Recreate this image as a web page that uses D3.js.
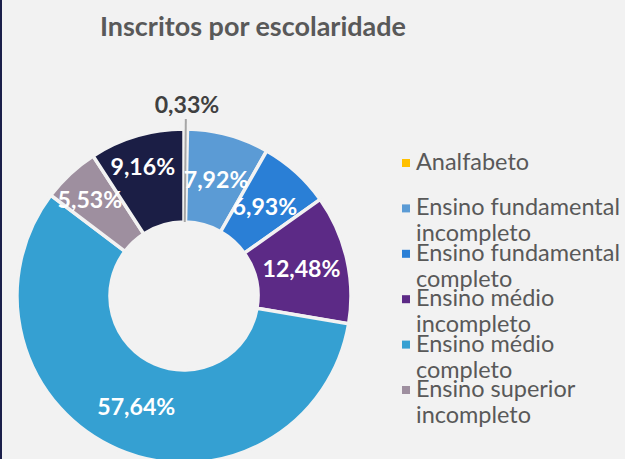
<!DOCTYPE html>
<html><head><meta charset="utf-8">
<script src="https://cdn.jsdelivr.net/npm/d3@7/dist/d3.min.js"></script>
<style>
html,body{margin:0;padding:0;background:#f2f2f2;}
svg{display:block;}
</style></head>
<body>
<svg id="c" width="625" height="459"></svg>
<script>
const title = "Inscritos por escolaridade";
const categories = ["Analfabeto","Ensino fundamental incompleto","Ensino fundamental completo","Ensino médio incompleto","Ensino médio completo","Ensino superior incompleto","Ensino superior completo"];
const legendLines = [["Analfabeto"],["Ensino fundamental","incompleto"],["Ensino fundamental","completo"],["Ensino médio","incompleto"],["Ensino médio","completo"],["Ensino superior","incompleto"]];
const values = [0.33, 7.92, 6.93, 12.48, 57.64, 5.53, 9.16];
const labels = ["0,33%","7,92%","6,93%","12,48%","57,64%","5,53%","9,16%"];
const colors = ["#ffc000","#5b9bd5","#2a7fd6","#5c2a86","#35a0d2","#9e8f9f","#1b1e45"];
// manual label nudges (as in the original)
const nudge = {"Ensino superior completo":[-7,-14],"Ensino superior incompleto":[-12,-8]};

const svg = d3.select("#c");
const W = 625, H = 459;
svg.append("rect").attr("width",W).attr("height",H).attr("fill","#f2f2f2");
svg.append("rect").attr("x",0).attr("y",0).attr("width",2).attr("height",H).attr("fill","#1b1f4a");

const font = "Lato, 'Open Sans', sans-serif";
function fit(sel, target){
  let fs = parseFloat(sel.attr("font-size"));
  for(let i=0;i<4;i++){ const w = sel.node().getComputedTextLength(); fs = fs*target/w; sel.attr("font-size",fs); }
  return fs;
}

const t = svg.append("text").attr("x",253).attr("y",36).attr("text-anchor","middle")
  .attr("font-family",font).attr("font-weight","bold").attr("font-size",28).attr("fill","#595959").text(title);
fit(t,306);

const cx = 184, cy = 296, R = 167, r0 = 74;
const data = categories.map((c,i)=>({cat:c,value:values[i],label:labels[i],color:colors[i]}));
const pie = d3.pie().value(d=>d.value).sort(null);
const arcs = pie(data);
const arc = d3.arc().innerRadius(r0).outerRadius(R);
const mid = d3.arc().innerRadius((r0+R)/2).outerRadius((r0+R)/2);
const g = svg.append("g").attr("transform",`translate(${cx},${cy})`);
g.selectAll("path.s").data(arcs).join("path").attr("class","s")
  .attr("d",arc).attr("fill",d=>d.data.color).attr("stroke","#f2f2f2").attr("stroke-width",3.5);

// leader for the tiny slice
const a0 = arcs[0]; const am = (a0.startAngle+a0.endAngle)/2;
g.append("line").attr("x1",Math.sin(am)*r0).attr("y1",-Math.cos(am)*r0)
  .attr("x2",Math.sin(am)*(R+10)).attr("y2",-Math.cos(am)*(R+10))
  .attr("stroke","#a6a6a6").attr("stroke-width",2);

// measure label font size
const probe = svg.append("text").attr("font-family",font).attr("font-weight","bold").attr("font-size",22).text("57,64%");
const lfs = fit(probe,78); probe.remove();

g.selectAll("text.l").data(arcs.slice(1)).join("text").attr("class","l")
  .attr("transform",d=>{const c=mid.centroid(d); const n=nudge[d.data.cat]||[0,0]; return `translate(${c[0]+n[0]},${c[1]+n[1]})`;})
  .attr("text-anchor","middle").attr("dy","0.36em")
  .attr("font-family",font).attr("font-weight","bold").attr("font-size",lfs).attr("fill","#ffffff")
  .text(d=>d.data.label);
g.append("text").attr("x",Math.sin(am)*(R+24)+1).attr("y",-Math.cos(am)*(R+24)).attr("dy","0.36em")
  .attr("text-anchor","middle").attr("font-family",font).attr("font-weight","bold").attr("font-size",lfs)
  .attr("fill","#404040").text(arcs[0].data.label);

// legend
const lg = svg.append("g");
const probe2 = svg.append("text").attr("font-family",font).attr("font-size",18).text("Ensino fundamental");
const gfs = fit(probe2,204); probe2.remove();
legendLines.forEach((lines,i)=>{
  const yc = 163 + i*45.4;
  lg.append("rect").attr("x",402).attr("y",yc-4).attr("width",8).attr("height",8).attr("fill",colors[i]);
  lines.forEach((ln,j)=>{
    lg.append("text").attr("x",416).attr("y",yc+7+j*26).attr("font-family",font).attr("font-size",gfs)
      .attr("fill","#595959").text(ln);
  });
});
</script>
</body></html>
